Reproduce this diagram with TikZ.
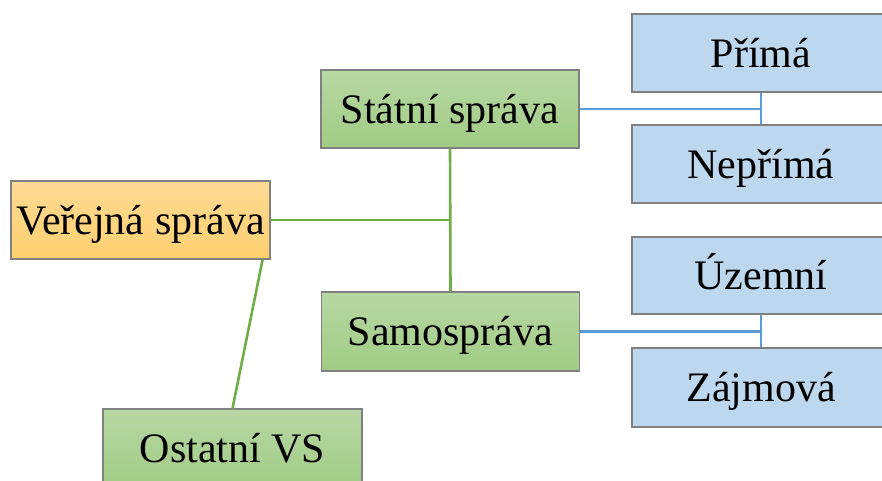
\documentclass[tikz,border=0pt]{standalone}
\usepackage{fontspec}
\setmainfont{Liberation Serif}
\usetikzlibrary{calc}
\definecolor{gtop}{HTML}{B8D8A4}
\definecolor{gbot}{HTML}{A0CB84}
\definecolor{otop}{HTML}{FFDA95}
\definecolor{obot}{HTML}{FFD06E}
\definecolor{bfill}{HTML}{BDD7EE}
\definecolor{bord}{HTML}{808080}
\definecolor{gline}{HTML}{70AD47}
\definecolor{bline}{HTML}{5B9BD5}
\tikzset{
  box/.style={draw=bord, line width=1.2pt, minimum width=258pt, minimum height=78pt,
    inner sep=0pt, text height=28pt, text depth=0pt, font=\fontsize{42}{46}\selectfont, anchor=center},
  greenbox/.style={box, top color=gtop, bottom color=gbot},
  orangebox/.style={box, top color=otop, bottom color=obot},
  bluebox/.style={box, fill=bfill, minimum width=300pt},
  bluetext/.style={font=\fontsize{42}{46}\selectfont, inner sep=0pt, text height=28pt, text depth=0pt},
  gconn/.style={draw=gline, line width=2.6pt},
  bconn/.style={draw=bline, line width=2.6pt}
}
\begin{document}
\begin{tikzpicture}[x=1pt,y=-1pt]
\useasboundingbox (0,0) rectangle (882,480);
\node[orangebox, minimum width=259pt] (ver) at (140.5,220) {Veřejná správa};
\node[greenbox] (stat) at (450,109) {Státní správa};
\node[greenbox, minimum height=79pt] (samo) at (450.5,331.5) {Samospráva};
\node[greenbox, minimum width=259pt] (ost) at (232.5,448) {Ostatní VS};
\node[bluebox] (prima) at (782,53) {};
\node[bluebox] (neprima) at (782,164) {};
\node[bluebox, minimum height=77pt] (uzemni) at (782,275.5) {};
\node[bluebox, minimum height=79pt] (zajmova) at (782,387.5) {};
\node[bluetext] (tprima) at (761,53) {Přímá};
\node[bluetext] (tneprima) at (761,164) {Nepřímá};
\node[bluetext] (tuzemni) at (761,275.5) {Územní};
\node[bluetext] (tzajmova) at (761,387.5) {Zájmová};
\draw[gconn] (ver.east) -- (ver.east -| stat.south);
\draw[gconn] (stat.south) -- (samo.north);
\draw[gconn] ($(ver.south east)+(-8,0)$) -- (ost.north);
\draw[bconn] (stat.east) -- (stat.east -| tprima.center);
\draw[bconn] (prima.south -| tprima.center) -- (neprima.north -| tneprima.center);
\draw[bconn] (samo.east) -- (samo.east -| tuzemni.center);
\draw[bconn] (uzemni.south -| tuzemni.center) -- (zajmova.north -| tzajmova.center);
\end{tikzpicture}
\end{document}
